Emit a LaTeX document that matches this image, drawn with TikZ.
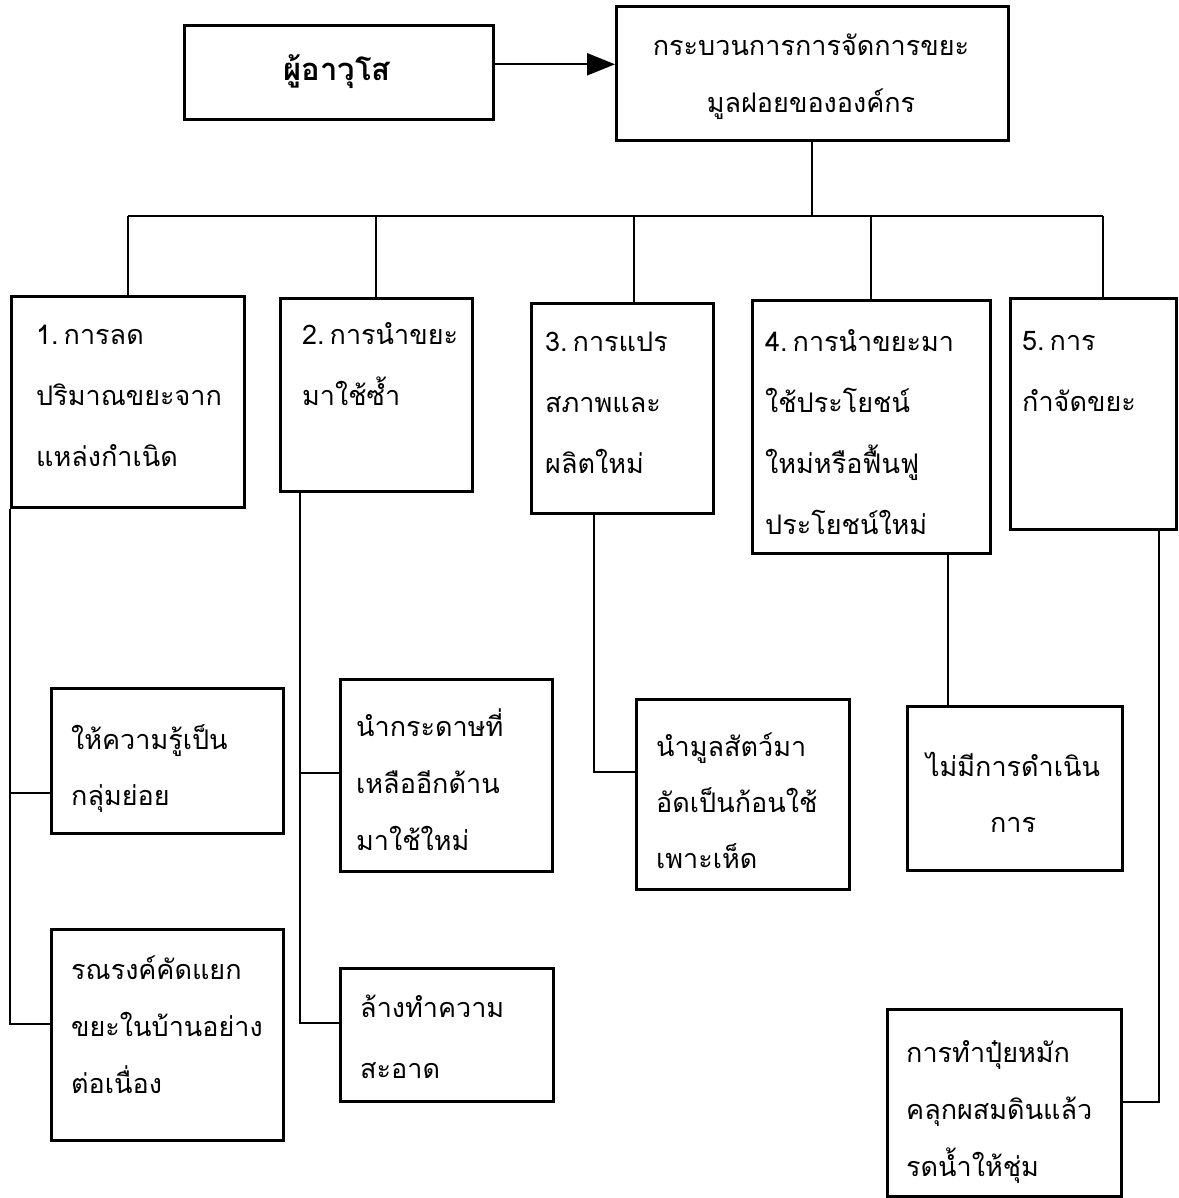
\documentclass[tikz,border=0pt]{standalone}
\usepackage{fontspec}
\newfontfamily\thaifont[Script=Thai]{Loma}
\usetikzlibrary{arrows.meta}

\tikzset{
  box/.style={draw, line width=2.6pt, anchor=north west, inner sep=0pt},
  txt/.style={anchor=base west, align=left, text width=190pt, inner sep=0pt,
    font=\thaifont\fontsize{27}{61}\selectfont},
  link/.style={line width=2.3pt},
}

\begin{document}
\begin{tikzpicture}[x=1pt, y=-1pt]
\useasboundingbox (0,0) rectangle (1178,1198);

% Kopf
\node[box, minimum width=309pt, minimum height=94pt] (senior) at (183,24) {};
\node[txt, anchor=base, align=center, text width=290pt,
  font=\thaifont\bfseries\fontsize{31}{61}\selectfont] (seniort) at (337,81) {ผู้อาวุโส};
\node[box, minimum width=392pt, minimum height=134pt] (proc) at (615,5) {};
\node[txt, anchor=base, align=center, text width=380pt, font=\thaifont\fontsize{27}{57}\selectfont] (proct) at (811,56)
  {กระบวนการการจัดการขยะ\\มูลฝอยขององค์กร};
\draw[link, -{Triangle[length=28pt,width=22pt]}] ([yshift=8pt]senior.east) -- ([yshift=8pt]senior.east -| proc.west);

% Fuenf Schritte
\node[box, minimum width=233pt, minimum height=211pt] (b1) at (10,295) {};
\node[box, minimum width=192pt, minimum height=193pt] (b2) at (279,297) {};
\node[box, minimum width=182pt, minimum height=210pt] (b3) at (530,302) {};
\node[box, minimum width=238pt, minimum height=253pt] (b4) at (751,299) {};
\node[box, minimum width=166pt, minimum height=231pt] (b5) at (1009,297) {};
\node[txt] (b1t) at (36,344) {1.\hspace{5pt}การลด\\ปริมาณขยะจาก\\แหล่งกำเนิด};
\node[txt] (b2t) at (302,344) {2.\hspace{5pt}การนำขยะ\\มาใช้ซ้ำ};
\node[txt] (b3t) at (545,351) {3.\hspace{5pt}การแปร\\สภาพและ\\ผลิตใหม่};
\node[txt] (b4t) at (765,351) {4.\hspace{5pt}การนำขยะมา\\ใช้ประโยชน์\\ใหม่หรือฟื้นฟู\\ประโยชน์ใหม่};
\node[txt, text width=140pt] (b5t) at (1022,350) {5.\hspace{5pt}การ\\กำจัดขยะ};

% Verteiler
\coordinate (bus) at (808,216);
\draw[link] (proc.south) -- (proc.south |- bus);
\draw[link] (b1.north |- bus) -- ([xshift=10pt]b5.north |- bus);
\foreach \b/\dx in {b1/0,b2/0,b3/12,b4/0,b5/10}
  \draw[link] ([xshift=\dx pt]\b.north) -- ([xshift=\dx pt]\b.north |- bus);

% Massnahmen
\node[box, minimum width=232pt, minimum height=145pt] (sA) at (50,687) {};
\node[box, minimum width=232pt, minimum height=211pt] (sB) at (50,928) {};
\node[box, minimum width=212pt, minimum height=192pt] (sC) at (339,678) {};
\node[box, minimum width=213pt, minimum height=133pt] (sD) at (339,967) {};
\node[box, minimum width=213pt, minimum height=190pt] (sE) at (635,698) {};
\node[box, minimum width=215pt, minimum height=164pt] (sF) at (906,705) {};
\node[box, minimum width=234pt, minimum height=187pt] (sG) at (886,1008) {};
\node[txt, font=\thaifont\fontsize{27}{56}\selectfont] (sAt) at (71,749) {ให้ความรู้เป็น\\กลุ่มย่อย};
\node[txt, font=\thaifont\fontsize{27}{57}\selectfont] (sBt) at (71,979) {รณรงค์คัดแยก\\ขยะในบ้านอย่าง\\ต่อเนื่อง};
\node[txt, font=\thaifont\fontsize{27}{57}\selectfont] (sCt) at (356,736) {นำกระดาษที่\\เหลืออีกด้าน\\มาใช้ใหม่};
\node[txt] (sDt) at (360,1017) {ล้างทำความ\\สะอาด};
\node[txt, font=\thaifont\fontsize{27}{56}\selectfont] (sEt) at (656,756) {นำมูลสัตว์มา\\อัดเป็นก้อนใช้\\เพาะเห็ด};
\node[txt, anchor=base, align=center, text width=200pt, font=\thaifont\fontsize{27}{56}\selectfont] (sFt) at (1013,776) {ไม่มีการดำเนิน\\การ};
\node[txt, font=\thaifont\fontsize{27}{57}\selectfont] (sGt) at (906,1062) {การทำปุ๋ยหมัก\\คลุกผสมดินแล้ว\\รดน้ำให้ชุ่ม};

% Verbindungen
\coordinate (v2) at ([xshift=21pt]b2.south west);
\coordinate (v3) at ([xshift=-28pt]b3.south);
\coordinate (v4) at ([xshift=77pt]b4.south);
\coordinate (v5) at ([xshift=66pt]b5.south);
\draw[link] (b1.south west) |- (sB.west |- 0,1024);
\draw[link] (b1.south west |- 0,793) -- (sA.west |- 0,793);
\draw[link] (v2) |- (sD.west |- 0,1023);
\draw[link] (v2 |- 0,773) -- (sC.west |- 0,773);
\draw[link] (v3) |- (sE.west |- 0,772);
\draw[link] (v4) -- (v4 |- sF.north);
\draw[link] (v5) |- (sG.east |- 0,1102);
\end{tikzpicture}
\end{document}
